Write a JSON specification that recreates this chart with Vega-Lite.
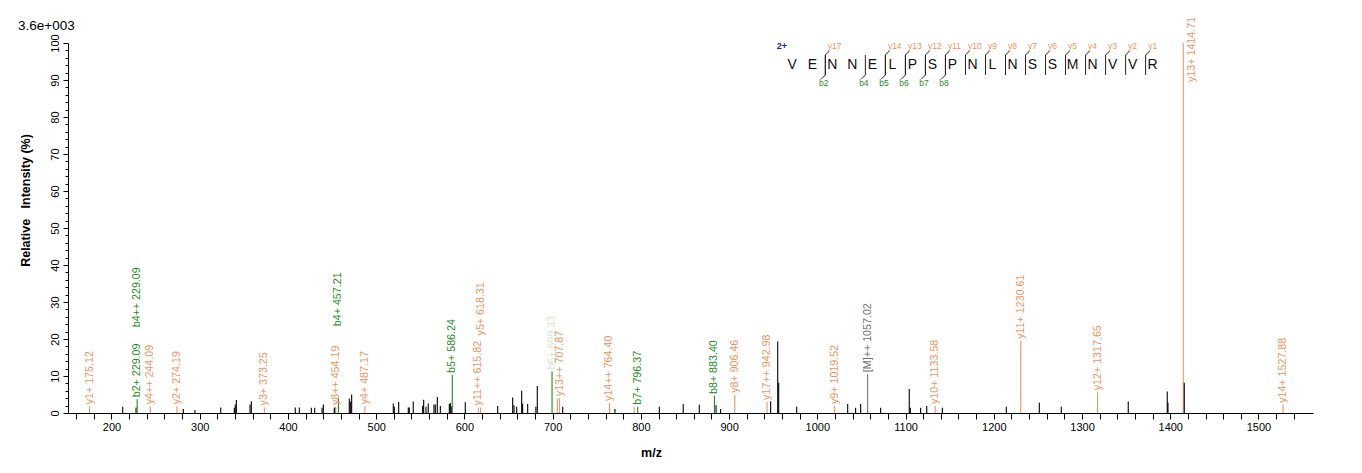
{
  "$schema": "https://vega.github.io/schema/vega-lite/v6.json",
  "background": "white",
  "width": 1245,
  "height": 370,
  "autosize": {"type": "none"},
  "padding": {"left": 68, "top": 43, "right": 49, "bottom": 60},
  "config": {
    "view": {"stroke": null},
    "font": "Liberation Sans",
    "text": {"font": "Liberation Sans"},
    "axis": {"labelFont": "Liberation Sans", "titleFont": "Liberation Sans", "grid": false,
             "domainColor": "black", "tickColor": "black", "labelColor": "black", "titleColor": "black"}
  },
  "datasets": {
    "peaks": [
      {"mz": 175.12, "inten": 1.8, "ion": "y"},
      {"mz": 212.7, "inten": 1.7, "ion": "none"},
      {"mz": 227.8, "inten": 1.5, "ion": "none"},
      {"mz": 229.09, "inten": 3.7, "ion": "b"},
      {"mz": 244.09, "inten": 1.8, "ion": "y"},
      {"mz": 274.19, "inten": 1.8, "ion": "y"},
      {"mz": 281.4, "inten": 1.1, "ion": "none"},
      {"mz": 294.6, "inten": 0.8, "ion": "none"},
      {"mz": 323.8, "inten": 1.5, "ion": "none"},
      {"mz": 339.2, "inten": 1.4, "ion": "none"},
      {"mz": 340.3, "inten": 2.3, "ion": "none"},
      {"mz": 341.5, "inten": 3.5, "ion": "none"},
      {"mz": 357.0, "inten": 2.3, "ion": "none"},
      {"mz": 358.5, "inten": 3.2, "ion": "none"},
      {"mz": 373.25, "inten": 1.5, "ion": "y"},
      {"mz": 408.3, "inten": 1.5, "ion": "none"},
      {"mz": 412.9, "inten": 1.5, "ion": "none"},
      {"mz": 426.5, "inten": 1.4, "ion": "none"},
      {"mz": 430.3, "inten": 1.4, "ion": "none"},
      {"mz": 438.6, "inten": 1.4, "ion": "none"},
      {"mz": 440.1, "inten": 2.3, "ion": "none"},
      {"mz": 452.5, "inten": 1.4, "ion": "none"},
      {"mz": 453.3, "inten": 1.5, "ion": "none"},
      {"mz": 454.19, "inten": 1.6, "ion": "y"},
      {"mz": 457.21, "inten": 4.0, "ion": "b"},
      {"mz": 469.5, "inten": 3.9, "ion": "none"},
      {"mz": 470.7, "inten": 3.1, "ion": "none"},
      {"mz": 472.2, "inten": 5.0, "ion": "none"},
      {"mz": 487.17, "inten": 1.8, "ion": "y"},
      {"mz": 519.4, "inten": 2.6, "ion": "none"},
      {"mz": 520.5, "inten": 1.7, "ion": "none"},
      {"mz": 525.5, "inten": 3.0, "ion": "none"},
      {"mz": 536.4, "inten": 1.5, "ion": "none"},
      {"mz": 537.5, "inten": 1.5, "ion": "none"},
      {"mz": 542.0, "inten": 3.1, "ion": "none"},
      {"mz": 552.7, "inten": 1.9, "ion": "none"},
      {"mz": 553.8, "inten": 3.6, "ion": "none"},
      {"mz": 556.5, "inten": 1.7, "ion": "none"},
      {"mz": 559.0, "inten": 2.6, "ion": "none"},
      {"mz": 565.5, "inten": 2.3, "ion": "none"},
      {"mz": 567.0, "inten": 2.3, "ion": "none"},
      {"mz": 569.3, "inten": 4.3, "ion": "none"},
      {"mz": 572.7, "inten": 1.9, "ion": "none"},
      {"mz": 582.9, "inten": 2.4, "ion": "none"},
      {"mz": 584.0, "inten": 2.7, "ion": "none"},
      {"mz": 585.1, "inten": 1.8, "ion": "none"},
      {"mz": 586.24, "inten": 10.3, "ion": "b"},
      {"mz": 601.0, "inten": 2.9, "ion": "none"},
      {"mz": 615.82, "inten": 1.5, "ion": "y"},
      {"mz": 618.31, "inten": 1.5, "ion": "y"},
      {"mz": 637.7, "inten": 1.9, "ion": "none"},
      {"mz": 654.7, "inten": 4.2, "ion": "none"},
      {"mz": 656.2, "inten": 2.1, "ion": "none"},
      {"mz": 659.2, "inten": 1.7, "ion": "none"},
      {"mz": 664.9, "inten": 6.0, "ion": "none"},
      {"mz": 666.0, "inten": 2.6, "ion": "none"},
      {"mz": 671.7, "inten": 2.4, "ion": "none"},
      {"mz": 681.0, "inten": 1.7, "ion": "none"},
      {"mz": 682.6, "inten": 7.3, "ion": "none"},
      {"mz": 699.33, "inten": 11.2, "ion": "b"},
      {"mz": 705.34, "inten": 4.0, "ion": "y"},
      {"mz": 707.87, "inten": 4.0, "ion": "y"},
      {"mz": 711.4, "inten": 1.7, "ion": "none"},
      {"mz": 764.40, "inten": 2.7, "ion": "y"},
      {"mz": 770.6, "inten": 1.1, "ion": "none"},
      {"mz": 792.37, "inten": 1.7, "ion": "y"},
      {"mz": 796.37, "inten": 1.7, "ion": "b"},
      {"mz": 820.9, "inten": 1.7, "ion": "none"},
      {"mz": 848.0, "inten": 2.4, "ion": "none"},
      {"mz": 866.2, "inten": 2.2, "ion": "none"},
      {"mz": 883.40, "inten": 4.6, "ion": "b"},
      {"mz": 885.2, "inten": 2.1, "ion": "none"},
      {"mz": 890.4, "inten": 1.1, "ion": "none"},
      {"mz": 906.46, "inten": 4.9, "ion": "y"},
      {"mz": 942.98, "inten": 3.0, "ion": "y"},
      {"mz": 947.1, "inten": 3.2, "ion": "none"},
      {"mz": 955.1, "inten": 19.3, "ion": "none"},
      {"mz": 956.2, "inten": 8.2, "ion": "none"},
      {"mz": 976.6, "inten": 1.7, "ion": "none"},
      {"mz": 1019.52, "inten": 1.9, "ion": "y"},
      {"mz": 1034.4, "inten": 2.4, "ion": "none"},
      {"mz": 1043.4, "inten": 1.4, "ion": "none"},
      {"mz": 1049.1, "inten": 2.4, "ion": "none"},
      {"mz": 1057.02, "inten": 10.5, "ion": "M"},
      {"mz": 1071.8, "inten": 1.4, "ion": "none"},
      {"mz": 1104.2, "inten": 6.5, "ion": "none"},
      {"mz": 1105.4, "inten": 1.4, "ion": "none"},
      {"mz": 1117.1, "inten": 1.4, "ion": "none"},
      {"mz": 1124.0, "inten": 1.9, "ion": "none"},
      {"mz": 1133.58, "inten": 1.9, "ion": "y"},
      {"mz": 1141.7, "inten": 1.4, "ion": "none"},
      {"mz": 1214.2, "inten": 1.7, "ion": "none"},
      {"mz": 1230.61, "inten": 19.5, "ion": "y"},
      {"mz": 1251.6, "inten": 2.8, "ion": "none"},
      {"mz": 1276.5, "inten": 1.7, "ion": "none"},
      {"mz": 1317.65, "inten": 5.6, "ion": "y"},
      {"mz": 1352.4, "inten": 3.1, "ion": "none"},
      {"mz": 1396.6, "inten": 5.8, "ion": "none"},
      {"mz": 1397.4, "inten": 2.8, "ion": "none"},
      {"mz": 1414.71, "inten": 100, "ion": "y"},
      {"mz": 1415.9, "inten": 8.2, "ion": "none"},
      {"mz": 1527.88, "inten": 2.2, "ion": "y"}
    ],
    "labels": [
      {"mz": 175.12, "inten": 1.8, "ion": "y", "label": "y1+ 175.12", "tier": "base", "overlapped": false},
      {"mz": 229.09, "inten": 3.7, "ion": "b", "label": "b2+ 229.09", "tier": "base", "overlapped": false},
      {"mz": 229.09, "inten": 3.7, "ion": "b", "label": "b4++ 229.09", "tier": "stacked", "overlapped": false},
      {"mz": 244.09, "inten": 1.8, "ion": "y", "label": "y4++ 244.09", "tier": "base", "overlapped": false},
      {"mz": 274.19, "inten": 1.8, "ion": "y", "label": "y2+ 274.19", "tier": "base", "overlapped": false},
      {"mz": 373.25, "inten": 1.5, "ion": "y", "label": "y3+ 373.25", "tier": "base", "overlapped": false},
      {"mz": 454.19, "inten": 1.6, "ion": "y", "label": "y8++ 454.19", "tier": "base", "overlapped": false},
      {"mz": 457.21, "inten": 4.0, "ion": "b", "label": "b4+ 457.21", "tier": "stacked", "overlapped": false},
      {"mz": 487.17, "inten": 1.8, "ion": "y", "label": "y4+ 487.17", "tier": "base", "overlapped": false},
      {"mz": 586.24, "inten": 10.3, "ion": "b", "label": "b5+ 586.24", "tier": "base", "overlapped": false},
      {"mz": 615.82, "inten": 1.5, "ion": "y", "label": "y11++ 615.82", "tier": "base", "overlapped": false},
      {"mz": 618.31, "inten": 1.5, "ion": "y", "label": "y5+ 618.31", "tier": "stacked", "overlapped": false},
      {"mz": 699.33, "inten": 11.2, "ion": "b", "label": "b6+ 699.33", "tier": "base", "overlapped": true},
      {"mz": 707.87, "inten": 4.0, "ion": "y", "label": "y13++ 707.87", "tier": "base", "overlapped": false},
      {"mz": 764.40, "inten": 2.7, "ion": "y", "label": "y14++ 764.40", "tier": "base", "overlapped": false},
      {"mz": 796.37, "inten": 1.7, "ion": "b", "label": "b7+ 796.37", "tier": "base", "overlapped": false},
      {"mz": 883.40, "inten": 4.6, "ion": "b", "label": "b8+ 883.40", "tier": "base", "overlapped": false},
      {"mz": 906.46, "inten": 4.9, "ion": "y", "label": "y8+ 906.46", "tier": "base", "overlapped": false},
      {"mz": 942.98, "inten": 3.0, "ion": "y", "label": "y17++ 942.98", "tier": "base", "overlapped": false},
      {"mz": 1019.52, "inten": 1.9, "ion": "y", "label": "y9+ 1019.52", "tier": "base", "overlapped": false},
      {"mz": 1057.02, "inten": 10.5, "ion": "M", "label": "[M]++ 1057.02", "tier": "base", "overlapped": false},
      {"mz": 1133.58, "inten": 1.9, "ion": "y", "label": "y10+ 1133.58", "tier": "base", "overlapped": false},
      {"mz": 1230.61, "inten": 19.5, "ion": "y", "label": "y11+ 1230.61", "tier": "base", "overlapped": false},
      {"mz": 1317.65, "inten": 5.6, "ion": "y", "label": "y12+ 1317.65", "tier": "base", "overlapped": false},
      {"mz": 1414.71, "inten": 100, "ion": "y", "label": "y13+ 1414.71", "tier": "side", "overlapped": false},
      {"mz": 1527.88, "inten": 2.2, "ion": "y", "label": "y14+ 1527.88", "tier": "base", "overlapped": false}
    ],
    "scaleinfo": [{"maxAbs": "3.6e+003"}],
    "residues": [
      {"i": 0, "aa": "V"}, {"i": 1, "aa": "E"}, {"i": 2, "aa": "N"}, {"i": 3, "aa": "N"},
      {"i": 4, "aa": "E"}, {"i": 5, "aa": "L"}, {"i": 6, "aa": "P"}, {"i": 7, "aa": "S"},
      {"i": 8, "aa": "P"}, {"i": 9, "aa": "N"}, {"i": 10, "aa": "L"}, {"i": 11, "aa": "N"},
      {"i": 12, "aa": "S"}, {"i": 13, "aa": "S"}, {"i": 14, "aa": "M"}, {"i": 15, "aa": "N"},
      {"i": 16, "aa": "V"}, {"i": 17, "aa": "V"}, {"i": 18, "aa": "R"}
    ],
    "yions": [
      {"site": 2, "ion": "y17"}, {"site": 5, "ion": "y14"}, {"site": 6, "ion": "y13"},
      {"site": 7, "ion": "y12"}, {"site": 8, "ion": "y11"}, {"site": 9, "ion": "y10"},
      {"site": 10, "ion": "y9"}, {"site": 11, "ion": "y8"}, {"site": 12, "ion": "y7"},
      {"site": 13, "ion": "y6"}, {"site": 14, "ion": "y5"}, {"site": 15, "ion": "y4"},
      {"site": 16, "ion": "y3"}, {"site": 17, "ion": "y2"}, {"site": 18, "ion": "y1"}
    ],
    "bions": [
      {"site": 2, "ion": "b2"}, {"site": 4, "ion": "b4"}, {"site": 5, "ion": "b5"},
      {"site": 6, "ion": "b6"}, {"site": 7, "ion": "b7"}, {"site": 8, "ion": "b8"}
    ],
    "precursor": [{"charge": "2+"}]
  },
  "layer": [
    {
      "layer": [
        {
          "encoding": {
            "x": {
              "field": "mz", "type": "quantitative",
              "scale": {"domain": [150.7, 1561.8], "nice": false, "zero": false},
              "axis": {
                "values": [160,180,200,220,240,260,280,300,320,340,360,380,400,420,440,460,480,500,520,540,560,580,600,620,640,660,680,700,720,740,760,780,800,820,840,860,880,900,920,940,960,980,1000,1020,1040,1060,1080,1100,1120,1140,1160,1180,1200,1220,1240,1260,1280,1300,1320,1340,1360,1380,1400,1420,1440,1460,1480,1500,1520,1540],
                "format": "d",
                "labelExpr": "datum.value % 100 === 0 ? datum.label : ''",
                "tickSize": 6, "labelPadding": 2, "labelFontSize": 11,
                "labelFlush": false, "labelOverlap": false, "labelBound": false,
                "title": "m/z", "titleFontWeight": "bold", "titleFontSize": 12.5,
                "titleX": 583, "titleY": 39, "titleAlign": "center", "titleBaseline": "middle"
              }
            },
            "y": {
              "field": "inten", "type": "quantitative",
              "scale": {"domain": [0, 100], "nice": false},
              "axis": {
                "values": [0,2,4,6,8,10,12,14,16,18,20,22,24,26,28,30,32,34,36,38,40,42,44,46,48,50,52,54,56,58,60,62,64,66,68,70,72,74,76,78,80,82,84,86,88,90,92,94,96,98,100],
                "format": "d",
                "labelExpr": "datum.value % 10 === 0 ? datum.label : ''",
                "tickSize": {"condition": {"test": "datum.value % 10 === 0", "value": 5}, "value": 3},
                "labelAngle": 270, "labelAlign": "center", "labelBaseline": "bottom",
                "labelPadding": 3, "labelFontSize": 11, "labelFlush": false, "labelOverlap": false,
                "title": "Relative\u00a0\u00a0\u00a0Intensity (%)", "titleFontWeight": "bold", "titleFontSize": 12.5,
                "titleX": -43, "titleY": 157, "titleAngle": 270, "titleAlign": "center", "titleBaseline": "middle"
              }
            },
            "color": {
              "field": "ion", "type": "nominal",
              "scale": {"domain": ["y", "b", "M", "none"], "range": ["#EB9462", "#1F8A1F", "#707070", "#000000"]},
              "legend": null
            }
          },
          "layer": [
            {
              "data": {"name": "peaks"},
              "mark": {"type": "rule", "strokeWidth": 1.1},
              "encoding": {"y2": {"datum": 0}}
            },
            {
              "data": {"name": "labels"},
              "transform": [{"filter": "datum.tier === 'base' && !datum.overlapped"}],
              "mark": {"type": "text", "angle": 270, "align": "left", "baseline": "middle", "dx": 2, "fontSize": 10.7},
              "encoding": {"text": {"field": "label"}}
            },
            {
              "data": {"name": "labels"},
              "transform": [{"filter": "datum.tier === 'base' && datum.overlapped"}],
              "mark": {"type": "text", "angle": 270, "align": "left", "baseline": "middle", "dx": 2, "fontSize": 10.7, "opacity": 0.2},
              "encoding": {"text": {"field": "label"}}
            },
            {
              "data": {"name": "labels"},
              "transform": [{"filter": "datum.tier === 'stacked'"}],
              "mark": {"type": "text", "angle": 270, "align": "left", "baseline": "middle", "dx": 72, "fontSize": 10.7},
              "encoding": {"text": {"field": "label"}}
            },
            {
              "data": {"name": "labels"},
              "transform": [{"filter": "datum.tier === 'side'"}],
              "mark": {"type": "text", "angle": 270, "align": "left", "baseline": "middle", "dx": -39, "dy": 8.5, "fontSize": 10.7},
              "encoding": {"text": {"field": "label"}}
            }
          ]
        },
        {
          "data": {"name": "scaleinfo"},
          "mark": {"type": "text", "align": "left", "baseline": "alphabetic", "dx": -50, "dy": -13, "fontSize": 13.5, "color": "#000000"},
          "encoding": {
            "x": {"datum": 150.7, "type": "quantitative", "axis": null},
            "y": {"datum": 100, "type": "quantitative", "axis": null},
            "text": {"field": "maxAbs"}
          }
        }
      ],
      "resolve": {"axis": {"x": "independent", "y": "independent"}}
    },
    {
      "layer": [
        {
          "data": {"name": "residues"},
          "mark": {"type": "text", "align": "center", "baseline": "middle", "dx": 7, "fontSize": 14, "color": "#111111"},
          "encoding": {
            "x": {"field": "i", "type": "quantitative", "scale": {"domain": [-35.83, 26.36], "nice": false, "zero": false}, "axis": null},
            "y": {"datum": 0, "type": "quantitative", "scale": {"domain": [-19.333, 1.2222], "nice": false, "zero": false}, "axis": null},
            "text": {"field": "aa"}
          }
        },
        {
          "data": {"name": "yions"},
          "mark": {"type": "text", "align": "left", "baseline": "middle", "dx": 2.5, "fontSize": 8.5, "color": "#EB9462"},
          "encoding": {
            "x": {"field": "site", "type": "quantitative", "scale": {"domain": [-35.83, 26.36], "nice": false, "zero": false}, "axis": null},
            "y": {"datum": 1.05, "type": "quantitative", "scale": {"domain": [-19.333, 1.2222], "nice": false, "zero": false}, "axis": null},
            "text": {"field": "ion"}
          }
        },
        {
          "data": {"name": "bions"},
          "mark": {"type": "text", "align": "center", "baseline": "middle", "dx": -1.5, "fontSize": 8.5, "color": "#1F8A1F"},
          "encoding": {
            "x": {"field": "site", "type": "quantitative", "scale": {"domain": [-35.83, 26.36], "nice": false, "zero": false}, "axis": null},
            "y": {"datum": -1, "type": "quantitative", "scale": {"domain": [-19.333, 1.2222], "nice": false, "zero": false}, "axis": null},
            "text": {"field": "ion"}
          }
        },
        {
          "data": {"name": "yions"},
          "mark": {"type": "point", "shape": "M0,1L0,-1L0.4,-1.4", "filled": false, "size": 400, "color": "#222222", "strokeWidth": 1, "opacity": 1},
          "encoding": {
            "x": {"field": "site", "type": "quantitative", "scale": {"domain": [-35.83, 26.36], "nice": false, "zero": false}, "axis": null},
            "y": {"datum": 0, "type": "quantitative", "scale": {"domain": [-19.333, 1.2222], "nice": false, "zero": false}, "axis": null}
          }
        },
        {
          "data": {"name": "bions"},
          "mark": {"type": "point", "shape": "M0,-1L0,1L-0.4,1.4", "filled": false, "size": 400, "color": "#222222", "strokeWidth": 1, "opacity": 1},
          "encoding": {
            "x": {"field": "site", "type": "quantitative", "scale": {"domain": [-35.83, 26.36], "nice": false, "zero": false}, "axis": null},
            "y": {"datum": 0, "type": "quantitative", "scale": {"domain": [-19.333, 1.2222], "nice": false, "zero": false}, "axis": null}
          }
        },
        {
          "data": {"name": "precursor"},
          "mark": {"type": "text", "align": "center", "baseline": "middle", "dx": -3.5, "fontSize": 9, "fontWeight": "bold", "color": "#1A1AA0"},
          "encoding": {
            "x": {"datum": 0, "type": "quantitative", "scale": {"domain": [-35.83, 26.36], "nice": false, "zero": false}, "axis": null},
            "y": {"datum": 1.05, "type": "quantitative", "scale": {"domain": [-19.333, 1.2222], "nice": false, "zero": false}, "axis": null},
            "text": {"field": "charge"}
          }
        }
      ]
    }
  ],
  "resolve": {"scale": {"x": "independent", "y": "independent"}}
}
